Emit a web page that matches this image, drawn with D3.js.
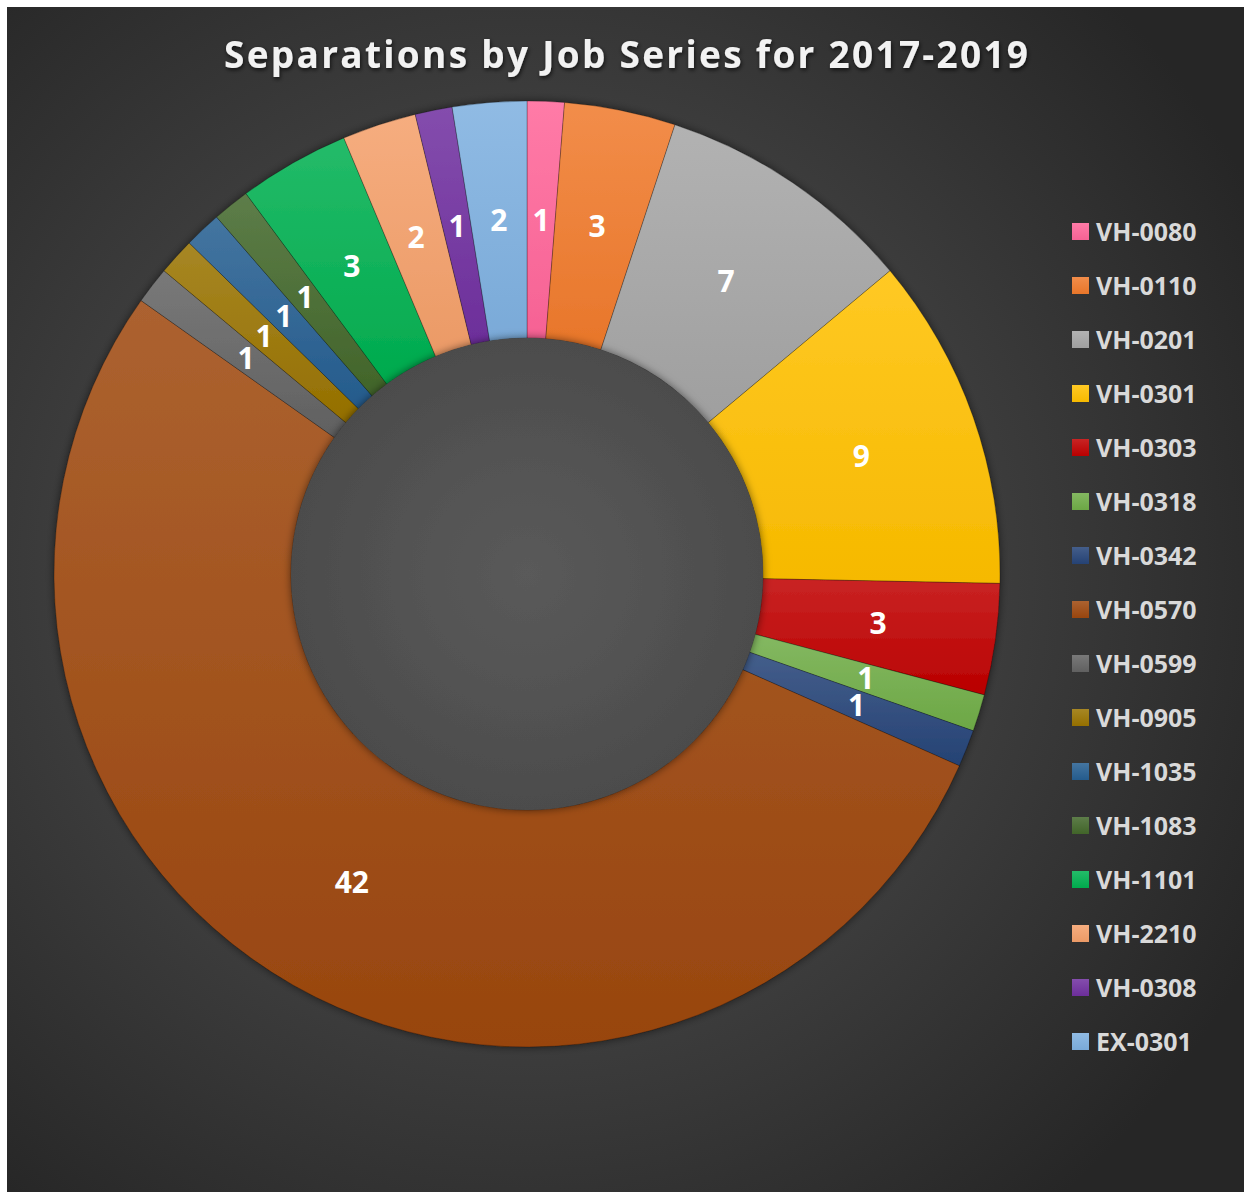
<!DOCTYPE html>
<html>
<head>
<meta charset="utf-8">
<script src="https://cdn.jsdelivr.net/npm/d3@7"></script>
<style>
  body { margin: 0; background: #ffffff; }
  svg { display: block; }
</style>
</head>
<body>
<div id="chart"></div>
<script>
// chart data
const categories = ["VH-0080", "VH-0110", "VH-0201", "VH-0301", "VH-0303", "VH-0318", "VH-0342", "VH-0570",
                    "VH-0599", "VH-0905", "VH-1035", "VH-1083", "VH-1101", "VH-2210", "VH-0308", "EX-0301"];
const separations = [1, 3, 7, 9, 3, 1, 1, 42, 1, 1, 1, 1, 3, 2, 1, 2];
const colors = ["#ff6699", "#f07a2c", "#a5a5a5", "#ffc000", "#c00000", "#70ad47", "#264478", "#9e480e",
                "#636363", "#997300", "#255e91", "#43682b", "#00b050", "#f4a06a", "#7030a0", "#7eb0e0"];
const title = "Separations by Job Series for 2017-2019";

const W = 1244, H = 1192;
const cx = 527, cy = 574, rOuter = 473, rInner = 236;

const svg = d3.select("#chart").append("svg")
  .attr("width", W)
  .attr("height", H);

const defs = svg.append("defs");

// background radial gradient
const bg = defs.append("radialGradient")
  .attr("id", "bg")
  .attr("gradientUnits", "userSpaceOnUse")
  .attr("cx", cx).attr("cy", cy).attr("r", 820);
bg.append("stop").attr("offset", "0").attr("stop-color", "#5a5a5a");
bg.append("stop").attr("offset", "1").attr("stop-color", "#262626");

const hole = defs.append("radialGradient")
  .attr("id", "bgHole")
  .attr("cx", "50%").attr("cy", "50%").attr("r", "50%");
hole.append("stop").attr("offset", "0").attr("stop-color", "#5a5a5a");
hole.append("stop").attr("offset", "1").attr("stop-color", "#4c4c4c");

const shadow = defs.append("filter").attr("id", "shadow")
  .attr("x", "-20%").attr("y", "-20%").attr("width", "140%").attr("height", "140%");
shadow.append("feDropShadow")
  .attr("dx", 0).attr("dy", 0).attr("stdDeviation", 4)
  .attr("flood-color", "#000").attr("flood-opacity", 0.55);

const txtShadow = defs.append("filter").attr("id", "txtShadow")
  .attr("x", "-10%").attr("y", "-30%").attr("width", "120%").attr("height", "160%");
txtShadow.append("feDropShadow")
  .attr("dx", 1).attr("dy", 2).attr("stdDeviation", 2)
  .attr("flood-color", "#000").attr("flood-opacity", 0.7);

// per-slice vertical gradients, lighter at the top
colors.forEach((c, i) => {
  const g = defs.append("linearGradient")
    .attr("id", "grad" + i)
    .attr("x1", 0).attr("y1", 0).attr("x2", 0).attr("y2", 1);
  g.append("stop").attr("offset", "0").attr("stop-color", d3.interpolateRgb(c, "#ffffff")(0.14));
  g.append("stop").attr("offset", "1").attr("stop-color", d3.color(c).darker(0.1));
});

svg.append("rect")
  .attr("x", 7).attr("y", 7)
  .attr("width", W - 7).attr("height", H - 7)
  .attr("fill", "url(#bg)");

// title
svg.append("text")
  .attr("x", 626).attr("y", 68)
  .attr("text-anchor", "middle")
  .attr("font-family", "'Open Sans', sans-serif")
  .attr("font-weight", "bold")
  .attr("font-size", 37)
  .attr("textLength", 804)
  .attr("lengthAdjust", "spacing")
  .attr("fill", "#f2f2f2")
  .attr("filter", "url(#txtShadow)")
  .text(title);

const pie = d3.pie().sort(null).value(d => d);
const arcs = pie(separations);
const arc = d3.arc().innerRadius(rInner).outerRadius(rOuter);

const g = svg.append("g").attr("transform", `translate(${cx},${cy})`);

g.append("g")
  .attr("filter", "url(#shadow)")
  .selectAll("path")
  .data(arcs)
  .join("path")
  .attr("d", arc)
  .attr("fill", (d, i) => `url(#grad${i})`)
  .attr("stroke", "rgba(0,0,0,0.35)")
  .attr("stroke-width", 0.75);

// hole, drawn as a raised disc casting shadow on the ring
g.append("circle")
  .attr("r", rInner)
  .attr("fill", "url(#bgHole)")
  .attr("filter", "url(#shadow)");

// value labels
g.selectAll("text.lbl")
  .data(arcs)
  .join("text")
  .attr("class", "lbl")
  .attr("transform", d => `translate(${arc.centroid(d)})`)
  .attr("text-anchor", "middle")
  .attr("dy", "0.36em")
  .attr("font-family", "'Open Sans', sans-serif")
  .attr("font-weight", "bold")
  .attr("font-size", 30)
  .attr("fill", "#ffffff")
  .text(d => d.data);

// legend
const legend = svg.append("g").attr("transform", "translate(1072,232)");
const item = legend.selectAll("g")
  .data(categories)
  .join("g")
  .attr("transform", (d, i) => `translate(0,${i * 54})`);

item.append("rect")
  .attr("x", 0).attr("y", -9)
  .attr("width", 17).attr("height", 17)
  .attr("fill", (d, i) => `url(#grad${i})`);

item.append("text")
  .attr("x", 24)
  .attr("dy", "0.36em")
  .attr("font-family", "'Open Sans', sans-serif")
  .attr("font-weight", "bold")
  .attr("font-size", 25)
  .attr("fill", "#d9d9d9")
  .text(d => d);
</script>
</body>
</html>
